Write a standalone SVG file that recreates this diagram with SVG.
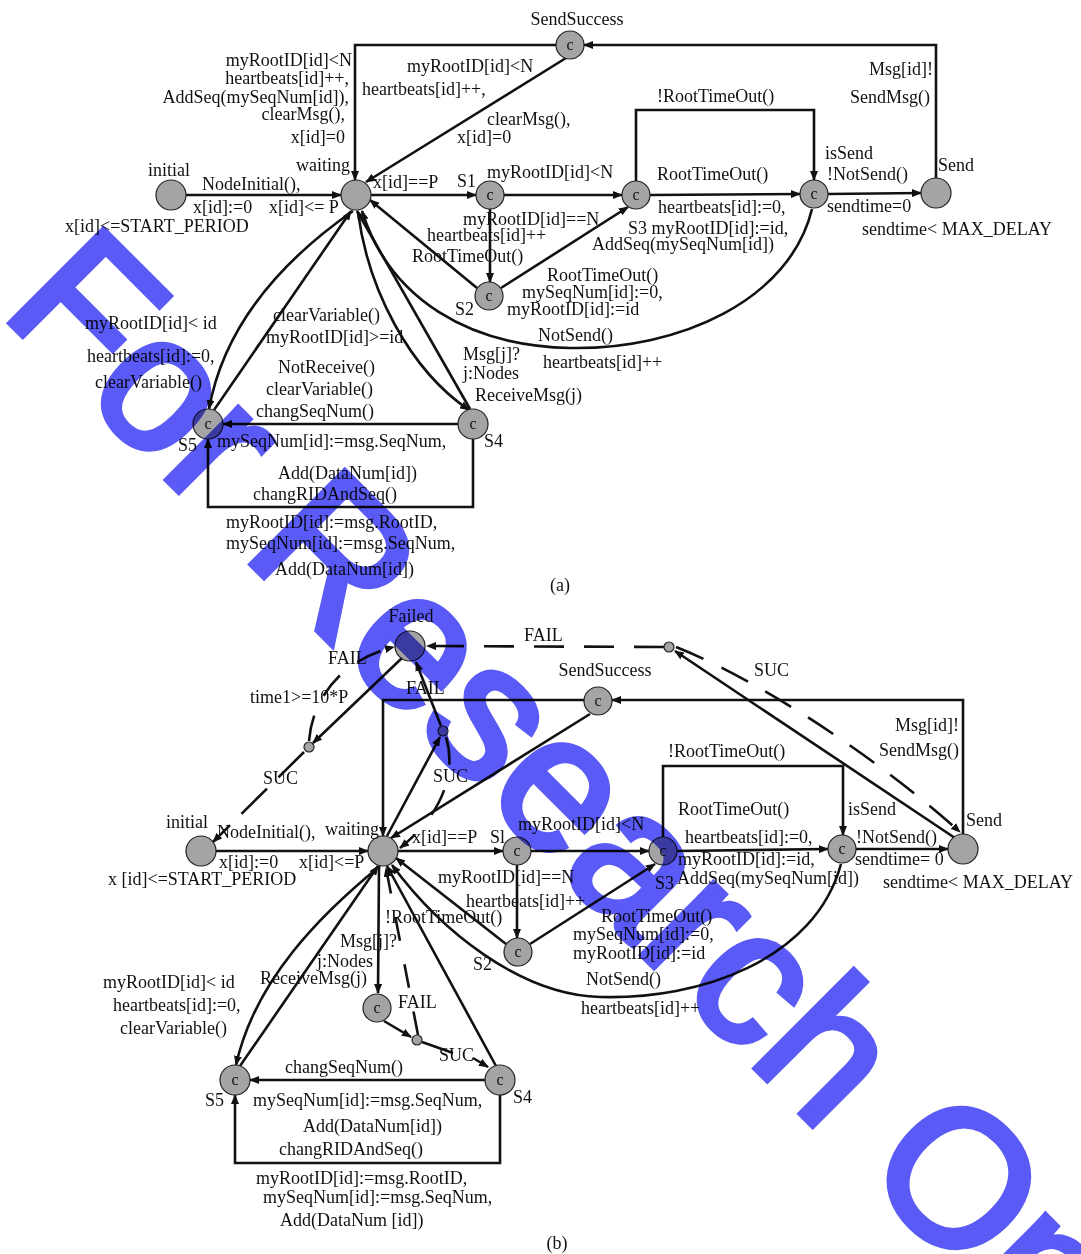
<svg xmlns="http://www.w3.org/2000/svg" width="1081" height="1254" viewBox="0 0 1081 1254">
<defs>
<marker id="ar" markerUnits="userSpaceOnUse" markerWidth="10" markerHeight="8" refX="9" refY="4" orient="auto"><path d="M0,0 L10,4 L0,8 z" fill="#111"/></marker>
<style>
.t{font-family:"Liberation Serif","Times New Roman",serif;font-size:18px;fill:#111}
.m{text-anchor:middle}
.r{text-anchor:end}
.e{stroke:#111;stroke-width:2.6;fill:none}
.a{marker-end:url(#ar)}
.d{stroke-dasharray:30 20}
.n{fill:#a4a4a7;stroke:#222;stroke-width:1.2}
.c{font-family:"Liberation Serif","Times New Roman",serif;font-size:16px;fill:#111;text-anchor:middle}
.wm{font-family:"Liberation Sans",Arial,sans-serif;font-size:192px;fill:#5a5af6;stroke:#5a5af6;stroke-width:6;stroke-linejoin:miter;mix-blend-mode:multiply}
</style>
</defs>
<rect width="1081" height="1254" fill="#fff"/>

<!-- ================= (a) ================= -->
<g id="edges-a">
<path class="e a" d="M186,195 L341,195"/>
<path class="e a" d="M371,195 L476,195"/>
<path class="e a" d="M504,195 L622,195"/>
<path class="e a" d="M650,195 L800,194"/>
<path class="e a" d="M828,194 L921,193"/>
<path class="e a" d="M636,181 L636,110 L814,110 L814,180"/>
<path class="e a" d="M936,178 L936,45 L584,45"/>
<path class="e a" d="M556,45 L355,45 L355,180"/>
<path class="e a" d="M566,58 L366,182"/>
<path class="e a" d="M490,209 L490,282"/>
<path class="e a" d="M501,288 L628,207"/>
<path class="e a" d="M477,288 L370,200"/>
<path class="e a" d="M812,209 C790,300 680,350 570,348 C470,346 390,300 362,211"/>
<path class="e a" d="M353,211 C290,255 225,320 209,409"/>
<path class="e a" d="M214,410 L351,211"/>
<path class="e a" d="M358,212 C368,290 410,370 469,410"/>
<path class="e a" d="M470,409 L357,211"/>
<path class="e a" d="M458,424 L223,424"/>
<path class="e a" d="M473,439 L473,507 L208,507 L208,439"/>
</g>
<g id="nodes-a">
<g id="a-initial"><circle class="n" cx="171" cy="195" r="15"/><text class="t m" x="169" y="176">initial</text></g>
<g id="a-waiting"><circle class="n" cx="356" cy="195" r="15"/><text class="t r" x="350" y="171">waiting</text></g>
<g id="a-S1"><circle class="n" cx="490" cy="195" r="14"/><text class="c" x="490" y="200">c</text><text class="t" x="457" y="187">S1</text></g>
<g id="a-S3"><circle class="n" cx="636" cy="195" r="14"/><text class="c" x="636" y="200">c</text></g>
<g id="a-isSend"><circle class="n" cx="814" cy="194" r="14"/><text class="c" x="814" y="199">c</text></g>
<g id="a-Send"><circle class="n" cx="936" cy="193" r="15"/><text class="t" x="938" y="171">Send</text></g>
<g id="a-SendSuccess"><circle class="n" cx="570" cy="45" r="14"/><text class="c" x="570" y="50">c</text><text class="t m" x="577" y="25">SendSuccess</text></g>
<g id="a-S2"><circle class="n" cx="489" cy="296" r="14"/><text class="c" x="489" y="301">c</text><text class="t" x="455" y="315">S2</text></g>
<g id="a-S5"><circle class="n" cx="208" cy="424" r="15"/><text class="c" x="208" y="429">c</text><text class="t" x="178" y="451">S5</text></g>
<g id="a-S4"><circle class="n" cx="473" cy="424" r="15"/><text class="c" x="473" y="429">c</text><text class="t" x="484" y="447">S4</text></g>
</g>
<g id="labels-a">
<text class="t r" x="352" y="66">myRootID[id]&lt;N</text>
<text class="t r" x="349" y="84">heartbeats[id]++,</text>
<text class="t r" x="349" y="103">AddSeq(mySeqNum[id]),</text>
<text class="t r" x="345" y="120">clearMsg(),</text>
<text class="t r" x="345" y="143">x[id]=0</text>
<text class="t" x="202" y="190">NodeInitial(),</text>
<text class="t" x="193" y="213">x[id]:=0</text>
<text class="t" x="269" y="213">x[id]&lt;= P</text>
<text class="t" x="65" y="232">x[id]&lt;=START_PERIOD</text>
<text class="t" x="373" y="188">x[id]==P</text>
<text class="t" x="407" y="72">myRootID[id]&lt;N</text>
<text class="t" x="362" y="95">heartbeats[id]++,</text>
<text class="t" x="487" y="125">clearMsg(),</text>
<text class="t" x="457" y="143">x[id]=0</text>
<text class="t" x="487" y="178">myRootID[id]&lt;N</text>
<text class="t" x="657" y="102">!RootTimeOut()</text>
<text class="t" x="657" y="180">RootTimeOut()</text>
<text class="t" x="463" y="225">myRootID[id]==N</text>
<text class="t" x="427" y="241">heartbeats[id]++</text>
<text class="t" x="412" y="262">RootTimeOut()</text>
<text class="t" x="658" y="213">heartbeats[id]:=0,</text>
<text class="t" x="628" y="234">S3 myRootID[id]:=id,</text>
<text class="t" x="592" y="250">AddSeq(mySeqNum[id])</text>
<text class="t" x="547" y="281">RootTimeOut()</text>
<text class="t" x="522" y="298">mySeqNum[id]:=0,</text>
<text class="t" x="507" y="315">myRootID[id]:=id</text>
<text class="t" x="538" y="341">NotSend()</text>
<text class="t" x="543" y="368">heartbeats[id]++</text>
<text class="t" x="463" y="360">Msg[j]?</text>
<text class="t" x="463" y="379">j:Nodes</text>
<text class="t" x="475" y="401">ReceiveMsg(j)</text>
<text class="t r" x="933" y="75">Msg[id]!</text>
<text class="t r" x="930" y="103">SendMsg()</text>
<text class="t" x="825" y="159">isSend</text>
<text class="t" x="827" y="180">!NotSend()</text>
<text class="t" x="827" y="212">sendtime=0</text>
<text class="t" x="862" y="235">sendtime&lt; MAX_DELAY</text>
<text class="t" x="85" y="329">myRootID[id]&lt; id</text>
<text class="t" x="87" y="362">heartbeats[id]:=0,</text>
<text class="t" x="95" y="388">clearVariable()</text>
<text class="t" x="273" y="321">clearVariable()</text>
<text class="t" x="266" y="343">myRootID[id]&gt;=id</text>
<text class="t" x="278" y="373">NotReceive()</text>
<text class="t" x="266" y="395">clearVariable()</text>
<text class="t" x="256" y="417">changSeqNum()</text>
<text class="t" x="217" y="447">mySeqNum[id]:=msg.SeqNum,</text>
<text class="t" x="278" y="479">Add(DataNum[id])</text>
<text class="t" x="253" y="500">changRIDAndSeq()</text>
<text class="t" x="226" y="528">myRootID[id]:=msg.RootID,</text>
<text class="t" x="226" y="549">mySeqNum[id]:=msg.SeqNum,</text>
<text class="t" x="275" y="575">Add(DataNum[id])</text>
<text class="t m" x="560" y="591">(a)</text>
</g>

<!-- ================= (b) ================= -->
<g id="edges-b">
<path class="e a" d="M216,851 L368,851"/>
<path class="e a" d="M398,851 L503,851"/>
<path class="e a" d="M531,851 L649,851"/>
<path class="e a" d="M677,851 L828,849"/>
<path class="e a" d="M856,849 L948,849"/>
<path class="e a" d="M663,837 L663,766 L843,766 L843,835"/>
<path class="e a" d="M963,834 L963,700 L612,700"/>
<path class="e a" d="M584,700 L383,700 L383,836"/>
<path class="e a" d="M590,714 L391,838"/>
<path class="e a" d="M517,865 L517,938"/>
<path class="e a" d="M530,944 L655,864"/>
<path class="e a" d="M506,944 L396,858"/>
<path class="e a" d="M841,864 C815,960 700,1000 600,997 C520,995 440,930 392,865"/>
<path class="e a" d="M380,866 C320,915 255,980 236,1065"/>
<path class="e a" d="M240,1066 L378,866"/>
<path class="e a" d="M496,1066 L387,866"/>
<path class="e a" d="M379,866 L378,993"/>
<path class="e a" d="M384,1021 L411,1037"/>
<path class="e" d="M422,1042 L453,1053"/>
<path class="e a" d="M473,1058 L488,1067"/>
<path class="e a" d="M485,1080 L250,1080"/>
<path class="e a" d="M500,1095 L500,1163 L235,1163 L235,1095"/>
<path class="e d a" style="stroke-dasharray:24 24" d="M418,1035 L386,868"/>
<path class="e a" d="M387,836 L440,737"/>
<path class="e a" d="M441,726 L416,662"/>
<path class="e d a" style="stroke-dasharray:28 26" d="M446,737 C456,770 445,812 400,848"/>
<path class="e a" d="M402,658 L313,743"/>
<path class="e d a" style="stroke-dasharray:26 22" d="M309,741 C312,700 340,660 394,647"/>
<path class="e d a" style="stroke-dasharray:36 16" d="M304,752 L213,842"/>
<path class="e a" d="M955,838 L675,651"/>
<path class="e d a" d="M676,647 C760,680 880,760 960,832"/>
<path class="e d a" d="M664,647 L427,646"/>
</g>
<g id="nodes-b">
<g id="b-initial"><circle class="n" cx="201" cy="851" r="15"/><text class="t m" x="187" y="828">initial</text></g>
<g id="b-waiting"><circle class="n" cx="383" cy="851" r="15"/><text class="t" x="325" y="835">waiting</text></g>
<g id="b-S1"><circle class="n" cx="517" cy="851" r="14"/><text class="c" x="517" y="856">c</text><text class="t" x="490" y="843">Sl</text></g>
<g id="b-S3"><circle class="n" cx="663" cy="851" r="14"/><text class="c" x="663" y="856">c</text><text class="t" x="655" y="889">S3</text></g>
<g id="b-isSend"><circle class="n" cx="842" cy="849" r="14"/><text class="c" x="842" y="854">c</text></g>
<g id="b-Send"><circle class="n" cx="963" cy="849" r="15"/><text class="t" x="966" y="826">Send</text></g>
<g id="b-SendSuccess"><circle class="n" cx="598" cy="701" r="14"/><text class="c" x="598" y="706">c</text><text class="t m" x="605" y="676">SendSuccess</text></g>
<g id="b-S2"><circle class="n" cx="518" cy="952" r="14"/><text class="c" x="518" y="957">c</text><text class="t" x="473" y="970">S2</text></g>
<g id="b-S5"><circle class="n" cx="235" cy="1080" r="15"/><text class="c" x="235" y="1085">c</text><text class="t" x="205" y="1106">S5</text></g>
<g id="b-S4"><circle class="n" cx="500" cy="1080" r="15"/><text class="c" x="500" y="1085">c</text><text class="t" x="513" y="1103">S4</text></g>
<g id="b-Failed"><circle class="n" cx="410" cy="646" r="15"/><text class="t m" x="411" y="622">Failed</text></g>
<g id="b-receive"><circle class="n" cx="377" cy="1008" r="14"/><text class="c" x="377" y="1013">c</text></g>
<g id="b-p1"><circle class="n" cx="309" cy="747" r="5"/></g>
<g id="b-p2"><circle class="n" cx="443" cy="731" r="5"/></g>
<g id="b-p3"><circle class="n" cx="669" cy="647" r="5"/></g>
<g id="b-p4"><circle class="n" cx="417" cy="1040" r="5"/></g>
</g>
<g id="labels-b">
<text class="t" x="328" y="664">FAIL</text>
<text class="t" x="406" y="694">FAIL</text>
<text class="t" x="250" y="703">time1&gt;=10*P</text>
<text class="t" x="263" y="784">SUC</text>
<text class="t" x="433" y="782">SUC</text>
<text class="t" x="524" y="641">FAIL</text>
<text class="t" x="754" y="676">SUC</text>
<text class="t r" x="959" y="731">Msg[id]!</text>
<text class="t r" x="959" y="756">SendMsg()</text>
<text class="t" x="668" y="757">!RootTimeOut()</text>
<text class="t" x="678" y="815">RootTimeOut()</text>
<text class="t" x="848" y="815">isSend</text>
<text class="t" x="856" y="843">!NotSend()</text>
<text class="t" x="685" y="843">heartbeats[id]:=0,</text>
<text class="t" x="678" y="865">myRootID[id]:=id,</text>
<text class="t" x="677" y="884">AddSeq(mySeqNum[id])</text>
<text class="t" x="855" y="865">sendtime= 0</text>
<text class="t" x="883" y="888">sendtime&lt; MAX_DELAY</text>
<text class="t" x="518" y="830">myRootID[id]&lt;N</text>
<text class="t" x="217" y="838">NodeInitial(),</text>
<text class="t" x="219" y="868">x[id]:=0</text>
<text class="t" x="299" y="868">x[id]&lt;=P</text>
<text class="t" x="108" y="885">x [id]&lt;=START_PERIOD</text>
<text class="t" x="412" y="843">x[id]==P</text>
<text class="t" x="438" y="883">myRootID[id]==N</text>
<text class="t" x="466" y="907">heartbeats[id]++</text>
<text class="t" x="385" y="923">!RootTimeOut()</text>
<text class="t" x="601" y="922">RootTimeOut()</text>
<text class="t" x="573" y="940">mySeqNum[id]:=0,</text>
<text class="t" x="573" y="959">myRootID[id]:=id</text>
<text class="t" x="586" y="985">NotSend()</text>
<text class="t" x="581" y="1014">heartbeats[id]++</text>
<text class="t" x="340" y="947">Msg[j]?</text>
<text class="t" x="317" y="967">j:Nodes</text>
<text class="t" x="260" y="984">ReceiveMsg(j)</text>
<text class="t" x="398" y="1008">FAIL</text>
<text class="t" x="439" y="1061">SUC</text>
<text class="t" x="103" y="988">myRootID[id]&lt; id</text>
<text class="t" x="113" y="1011">heartbeats[id]:=0,</text>
<text class="t" x="120" y="1034">clearVariable()</text>
<text class="t" x="285" y="1073">changSeqNum()</text>
<text class="t" x="253" y="1106">mySeqNum[id]:=msg.SeqNum,</text>
<text class="t" x="303" y="1132">Add(DataNum[id])</text>
<text class="t" x="279" y="1155">changRIDAndSeq()</text>
<text class="t" x="256" y="1184">myRootID[id]:=msg.RootID,</text>
<text class="t" x="263" y="1203">mySeqNum[id]:=msg.SeqNum,</text>
<text class="t" x="280" y="1226">Add(DataNum [id])</text>
<text class="t m" x="557" y="1249">(b)</text>
</g>

<g id="watermark">
<text class="wm" transform="translate(-1,312) rotate(45)">For Research Only</text>
</g>
</svg>
